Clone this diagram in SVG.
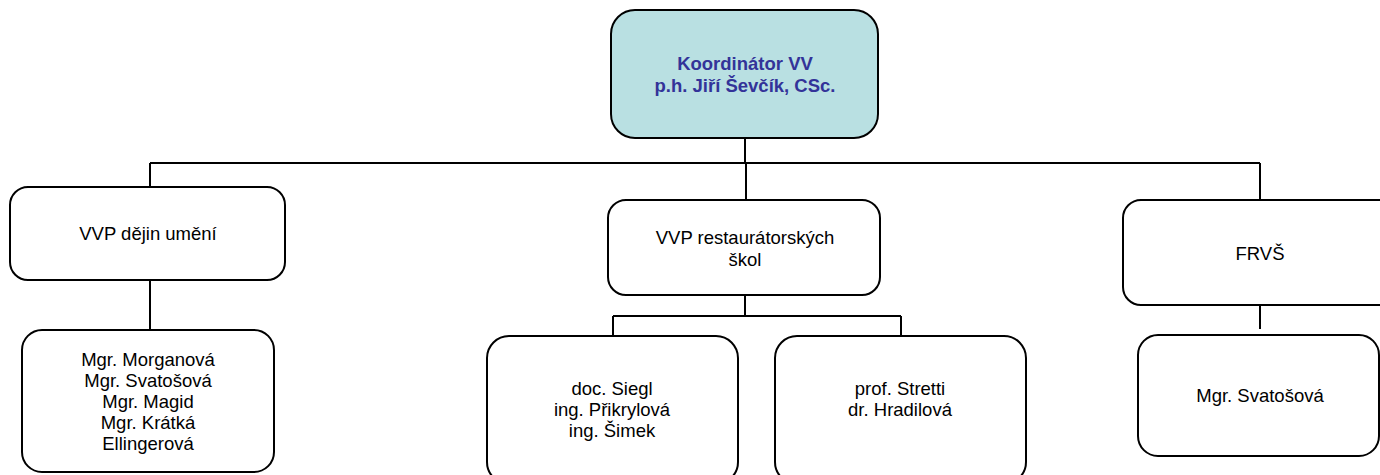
<svg xmlns="http://www.w3.org/2000/svg" width="1380" height="475" viewBox="0 0 1380 475">
<style>
.box{fill:#ffffff;stroke:#000000;stroke-width:2}
.top{fill:#b9e0e2;stroke:#000000;stroke-width:2}
.t{font-family:"Liberation Sans",Arial,sans-serif;font-size:18.5px;fill:#000000;text-anchor:middle}
.tb{font-family:"Liberation Sans",Arial,sans-serif;font-size:18.5px;font-weight:bold;fill:#333399;text-anchor:middle}
.c{fill:none;stroke:#000000;stroke-width:2}
</style>
<rect width="1380" height="475" fill="#ffffff"/>
<g id="connectors">
<path class="c" d="M745 138 V163 M150 163 H1260 M150 163 V187 M746 163 V200 M1260 163 V200"/>
<path class="c" d="M150 280 V330"/>
<path class="c" d="M745 295 V316 M613 316 H901 M613 316 V336 M901 316 V336"/>
<path class="c" d="M1260 305 V329"/>
</g>
<g id="n_koordinator">
<rect class="top" x="611" y="10" width="267" height="128" rx="24"/>
<text class="tb" x="745" y="70">Koordinátor VV</text>
<text class="tb" x="745" y="92">p.h. Jiří Ševčík, CSc.</text>
</g>
<g id="n_dejin">
<rect class="box" x="10" y="187" width="275" height="93" rx="18"/>
<text class="t" x="148" y="240">VVP dějin umění</text>
</g>
<g id="n_dejin_staff">
<rect class="box" x="22" y="330" width="252" height="142" rx="20"/>
<text class="t" x="148" y="366">Mgr. Morganová</text>
<text class="t" x="148" y="387">Mgr. Svatošová</text>
<text class="t" x="148" y="408">Mgr. Magid</text>
<text class="t" x="148" y="429">Mgr. Krátká</text>
<text class="t" x="148" y="450">Ellingerová</text>
</g>
<g id="n_restaur">
<rect class="box" x="608" y="200" width="272" height="95" rx="18"/>
<text class="t" x="745" y="244">VVP restaurátorských</text>
<text class="t" x="745" y="266">škol</text>
</g>
<g id="n_siegl">
<rect class="box" x="487" y="336" width="251" height="148" rx="22"/>
<text class="t" x="612" y="395">doc. Siegl</text>
<text class="t" x="612" y="416">ing. Přikrylová</text>
<text class="t" x="612" y="437">ing. Šimek</text>
</g>
<g id="n_stretti">
<rect class="box" x="775" y="336" width="251" height="148" rx="22"/>
<text class="t" x="900" y="395">prof. Stretti</text>
<text class="t" x="900" y="416">dr. Hradilová</text>
</g>
<g id="n_frvs">
<rect class="box" x="1123" y="200" width="275" height="105" rx="18"/>
<text class="t" x="1260" y="260">FRVŠ</text>
</g>
<g id="n_frvs_staff">
<rect class="box" x="1138" y="335" width="241" height="121" rx="20"/>
<text class="t" x="1260" y="402">Mgr. Svatošová</text>
</g>
</svg>
